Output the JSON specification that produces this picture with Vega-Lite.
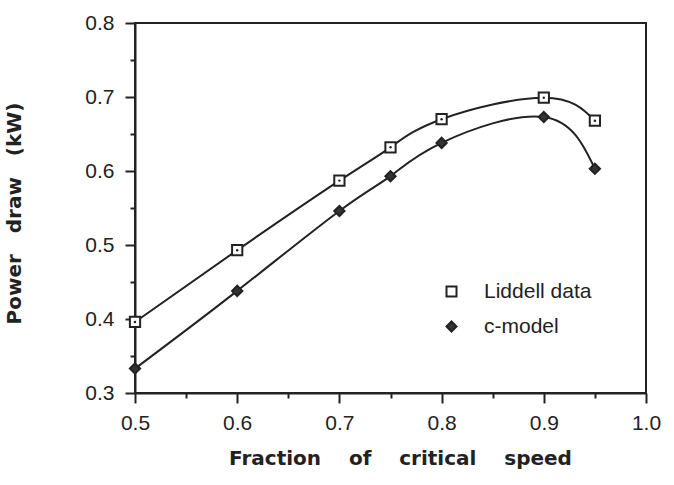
{
  "$schema": "https://vega.github.io/schema/vega-lite/v6.json",
  "width": 511,
  "height": 370,
  "autosize": {"type": "none"},
  "padding": {"left": 135, "top": 23, "right": 28, "bottom": 92},
  "background": "white",
  "config": {"view": {"stroke": "#222", "strokeWidth": 2}, "font": "Liberation Sans"},
  "data": {
    "values": [
      {"series": "Liddell data", "fraction": 0.5, "power": 0.396},
      {"series": "Liddell data", "fraction": 0.6, "power": 0.493},
      {"series": "Liddell data", "fraction": 0.7, "power": 0.587},
      {"series": "Liddell data", "fraction": 0.75, "power": 0.632},
      {"series": "Liddell data", "fraction": 0.8, "power": 0.670},
      {"series": "Liddell data", "fraction": 0.9, "power": 0.699},
      {"series": "Liddell data", "fraction": 0.95, "power": 0.668},
      {"series": "c-model", "fraction": 0.5, "power": 0.333},
      {"series": "c-model", "fraction": 0.6, "power": 0.438},
      {"series": "c-model", "fraction": 0.7, "power": 0.546},
      {"series": "c-model", "fraction": 0.75, "power": 0.593},
      {"series": "c-model", "fraction": 0.8, "power": 0.638},
      {"series": "c-model", "fraction": 0.9, "power": 0.673},
      {"series": "c-model", "fraction": 0.95, "power": 0.603}
    ]
  },
  "encoding": {
    "x": {
      "field": "fraction",
      "type": "quantitative",
      "scale": {"domain": [0.5, 1.0], "nice": false, "zero": false},
      "axis": {
        "values": [0.5, 0.55, 0.6, 0.65, 0.7, 0.75, 0.8, 0.85, 0.9, 0.95, 1.0],
        "format": ".1f",
        "labelExpr": "round(datum.value*100)%10===0 ? datum.label : ''",
        "tickSize": {"condition": {"test": "round(datum.value*100)%10===0", "value": 10}, "value": 5},
        "grid": false,
        "domainColor": "#222",
        "domainWidth": 2,
        "tickColor": "#222",
        "tickWidth": 2,
        "labelFont": "Liberation Sans",
        "labelFontSize": 21,
        "labelColor": "#222",
        "labelPadding": 9,
        "labelFlush": false,
        "labelOverlap": false,
        "title": "Fraction\u00a0\u00a0\u00a0 of\u00a0\u00a0\u00a0 critical\u00a0\u00a0\u00a0 speed",
        "titleFont": "DejaVu Sans",
        "titleFontSize": 20,
        "titleFontWeight": "bold",
        "titleColor": "#222",
        "titlePadding": 15,
        "titleX": 265
      }
    },
    "y": {
      "field": "power",
      "type": "quantitative",
      "scale": {"domain": [0.3, 0.8], "nice": false, "zero": false},
      "axis": {
        "values": [0.3, 0.35, 0.4, 0.45, 0.5, 0.55, 0.6, 0.65, 0.7, 0.75, 0.8],
        "format": ".1f",
        "labelExpr": "round(datum.value*100)%10===0 ? datum.label : ''",
        "tickSize": {"condition": {"test": "round(datum.value*100)%10===0", "value": 10}, "value": 5},
        "grid": false,
        "domainColor": "#222",
        "domainWidth": 2,
        "tickColor": "#222",
        "tickWidth": 2,
        "labelFont": "Liberation Sans",
        "labelFontSize": 21,
        "labelColor": "#222",
        "labelPadding": 11,
        "labelFlush": false,
        "labelOverlap": false,
        "title": "Power\u00a0\u00a0 draw\u00a0\u00a0 (kW)",
        "titleFont": "DejaVu Sans",
        "titleFontSize": 20,
        "titleFontWeight": "bold",
        "titleColor": "#222",
        "titlePadding": 60,
        "titleY": 190
      }
    }
  },
  "layer": [
    {
      "mark": {"type": "line", "interpolate": "natural", "stroke": "#222", "strokeWidth": 2},
      "encoding": {"detail": {"field": "series", "type": "nominal"}}
    },
    {
      "mark": {"type": "point", "filled": true, "stroke": "#222", "strokeWidth": 2, "opacity": 1, "size": 105},
      "encoding": {
        "shape": {
          "field": "series", "type": "nominal",
          "scale": {"domain": ["Liddell data", "c-model"], "range": ["square", "diamond"]},
          "legend": {"title": null, "orient": "none", "legendX": 306, "legendY": 258, "padding": 0, "rowPadding": 13, "labelOffset": 22, "labelFont": "Liberation Sans", "labelFontSize": 21, "labelColor": "#222", "symbolSize": 100, "symbolStrokeWidth": 2}
        },
        "fill": {
          "field": "series", "type": "nominal",
          "scale": {"domain": ["Liddell data", "c-model"], "range": ["white", "#333"]},
          "legend": {"title": null, "orient": "none", "legendX": 306, "legendY": 258, "padding": 0, "rowPadding": 13, "labelOffset": 22, "labelFont": "Liberation Sans", "labelFontSize": 21, "labelColor": "#222", "symbolSize": 100, "symbolStrokeWidth": 2}
        }
      }
    },
    {
      "transform": [{"filter": "datum.series === 'Liddell data'"}],
      "mark": {"type": "circle", "size": 6, "color": "#222", "opacity": 1}
    }
  ]
}
